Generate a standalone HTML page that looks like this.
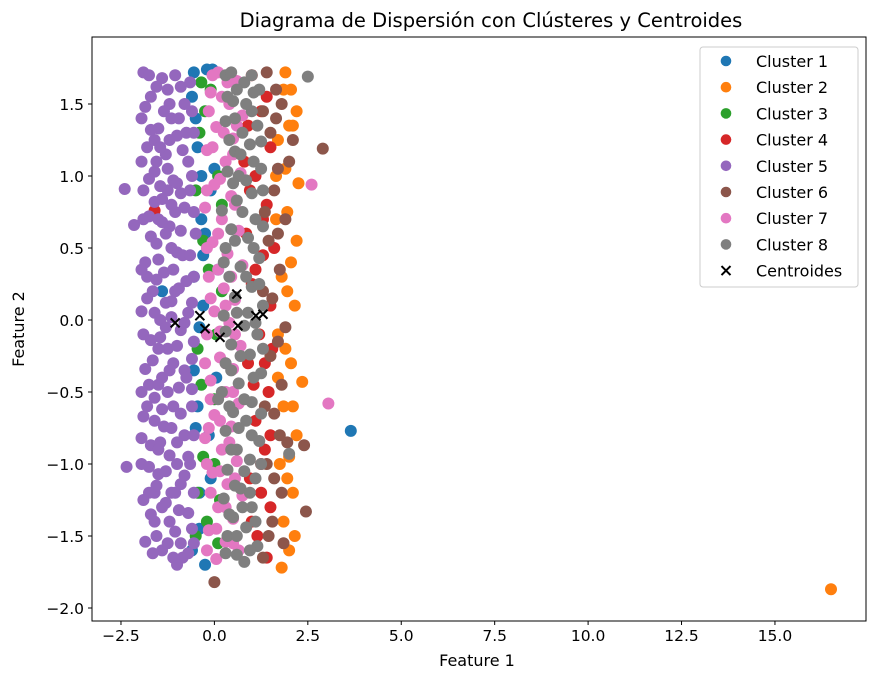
<!DOCTYPE html>
<html><head><meta charset="utf-8"><style>
body{margin:0;background:#fff;}
svg{display:block;font-family:"DejaVu Sans","Liberation Sans",sans-serif;}
</style></head><body>
<svg id="chart" width="878" height="677">
<text x="491" y="27" text-anchor="middle" font-size="19.5">Diagrama de Dispersión con Clústeres y Centroides</text>
<g id="pts"></g>
<rect x="92" y="37" width="774" height="584" fill="none" stroke="#000" stroke-width="1"/>
<g id="axes"></g>
<text x="477" y="666" text-anchor="middle" font-size="16">Feature 1</text>
<text transform="translate(24,329) rotate(-90)" text-anchor="middle" font-size="16">Feature 2</text>
<g id="legend"></g>
</svg>
<script>
const clusterNames=["Cluster 1","Cluster 2","Cluster 3","Cluster 4","Cluster 5","Cluster 6","Cluster 7","Cluster 8"];
const colors=["#1f77b4","#ff7f0e","#2ca02c","#d62728","#9467bd","#8c564b","#e377c2","#7f7f7f"];
const xTicks=[-2.5,0,2.5,5,7.5,10,12.5,15];
const xTickLabels=["−2.5","0.0","2.5","5.0","7.5","10.0","12.5","15.0"];
const yTicks=[-2,-1.5,-1,-0.5,0,0.5,1,1.5];
const yTickLabels=["−2.0","−1.5","−1.0","−0.5","0.0","0.5","1.0","1.5"];
const c1=[[-0.2,1.74],[-0.5,1.4],[0.0,1.05],[-0.35,0.7],[0.1,0.35],[-1.4,0.2],[-0.4,-0.05],[0.05,-0.4],[-0.5,-0.75],[-0.1,-1.1],[-0.4,-1.45],[-0.25,-1.7],[-0.45,1.2],[-0.1,0.9],[-0.3,0.1],[-0.15,-0.8],[3.65,-0.77],[-0.05,1.74],[-0.55,1.72],[-0.3,0.45],
[-0.6,1.55],[-0.35,1.0],[-0.55,0.3],[-0.55,-0.35],[-0.4,-1.2],[-0.6,-1.6],[-0.25,0.6],[-0.45,-0.6]];
const c2=[[1.9,1.72],[2.2,1.45],[1.7,1.25],[2.25,0.95],[1.95,0.75],[2.2,0.55],[1.8,0.3],[2.15,0.1],[1.7,-0.1],[2.05,-0.3],[2.35,-0.43],[1.85,-0.6],[2.2,-0.8],[1.75,-1.0],[2.1,-1.2],[1.85,-1.4],[2.0,-1.6],[1.8,-1.72],[2.05,1.6],[1.65,1.0],[2.1,1.35],[1.95,0.2],[2.0,-0.95],[16.5,-1.87],
[1.85,1.6],[2.0,1.35],[1.9,1.05],[2.05,0.4],[1.9,-0.2],[2.1,-0.6],[1.95,-1.1],[2.15,-1.5],[1.65,0.7],[1.7,-0.4]];
const c3=[[-0.1,1.6],[-0.4,1.3],[0.1,1.0],[-0.3,0.55],[0.2,0.2],[-0.45,-0.2],[0.0,-0.55],[-0.3,-0.95],[0.15,-1.25],[-0.2,-1.4],[-0.45,-1.2],[0.05,-0.1],[-0.25,1.45],[0.2,0.8],[-0.35,-0.45],[0.1,-1.55],
[-0.5,0.9],[-0.15,0.35],[-0.5,-1.5],[0.0,-1.0],[-0.35,1.65]];
const c4=[[1.0,1.7],[1.4,1.55],[0.9,1.35],[1.5,1.2],[1.1,1.0],[1.4,0.8],[0.85,0.6],[1.3,0.45],[1.0,0.25],[1.5,0.1],[1.2,-0.1],[0.9,-0.3],[1.45,-0.5],[1.1,-0.7],[1.35,-0.9],[0.95,-1.1],[1.5,-1.3],[1.15,-1.5],[1.4,-1.65],[1.6,0.5],[1.55,-0.2],[-1.6,0.76],[0.8,1.1],[1.25,-1.2],
[1.25,1.45],[0.95,0.9],[1.3,0.7],[1.1,0.35],[1.35,-0.3],[1.05,-0.45],[1.25,-1.0],[1.0,-1.4],[1.5,-0.8]];
const c5=[[-1.9,1.72],[-1.4,1.68],[-0.9,1.62],[-1.7,1.55],[-1.2,1.5],[-0.6,1.45],[-1.95,1.4],[-1.5,1.33],[-1.0,1.28],[-1.8,1.2],[-1.3,1.15],[-0.7,1.1],[-1.6,1.03],[-1.1,0.97],[-1.9,0.9],[-1.4,0.84],[-0.8,0.78],[-1.75,0.72],[-1.2,0.65],[-0.5,0.6],[-1.55,0.53],[-1.0,0.47],[-1.85,0.4],[-1.35,0.33],[-0.75,0.27],[-1.65,0.2],[-1.15,0.13],[-1.95,0.06],[-1.45,0.0],[-0.9,-0.07],[-1.7,-0.14],[-1.25,-0.2],[-0.6,-0.27],[-1.85,-0.34],[-1.4,-0.4],[-0.95,-0.47],[-1.6,-0.54],[-1.1,-0.6],[-1.9,-0.67],[-1.35,-0.74],[-0.8,-0.8],[-1.7,-0.87],[-1.2,-0.94],[-1.95,-1.0],[-1.5,-1.07],[-0.9,-1.14],[-1.75,-1.2],[-1.3,-1.27],[-0.7,-1.34],[-1.6,-1.4],[-1.05,-1.47],[-1.85,-1.54],[-1.4,-1.6],[-0.85,-1.65],[-1.55,1.1],[-1.05,0.2],[-1.5,-0.2],[-1.0,-1.0],[-1.25,1.6],[-1.3,0.6],[-2.35,-1.02],[-2.4,0.91],[-2.15,0.66],[-1.8,0.3],[-0.75,1.3],[-0.65,0.9],[-0.7,0.05],[-0.6,-0.6],[-0.65,-1.0],[-0.55,-1.55],[-1.15,1.4],[-1.6,1.25],[-1.05,0.75],[-1.5,0.7],[-1.2,-0.35],[-1.15,-1.2],[-1.6,-1.2],[-0.8,-0.35],[-1.0,0.95],[-1.25,0.9],[-1.3,-0.05],[-1.1,-1.65],[-0.8,1.5],[-1.75,-0.45],[-1.45,-0.85],[-0.85,0.45],
[-1.75,1.7],[-1.05,1.7],[-0.65,1.65],[-1.55,1.62],[-1.85,1.48],[-1.35,1.45],[-0.95,1.4],[-0.55,1.3],[-1.7,1.32],[-1.2,1.25],[-1.45,1.2],[-0.85,1.18],[-1.95,1.1],[-1.25,1.05],[-0.6,1.0],[-1.75,0.98],[-1.45,0.93],[-0.9,0.88],[-1.6,0.82],[-1.15,0.8],[-0.55,0.75],[-1.9,0.7],[-1.4,0.68],[-0.9,0.62],[-1.7,0.58],[-1.15,0.5],[-0.65,0.45],[-1.5,0.42],[-1.95,0.35],[-1.1,0.35],[-0.55,0.3],[-1.55,0.28],[-0.95,0.22],[-1.8,0.15],[-1.3,0.12],[-0.6,0.12],[-1.6,0.05],[-1.15,0.02],[-0.8,-0.02],[-1.9,-0.1],[-1.45,-0.12],[-1.0,-0.18],[-0.55,-0.15],[-1.65,-0.28],[-1.1,-0.3],[-0.75,-0.4],[-1.5,-0.45],[-1.95,-0.5],[-1.25,-0.5],[-0.6,-0.48],[-1.8,-0.6],[-1.4,-0.62],[-0.9,-0.65],[-1.6,-0.7],[-1.15,-0.75],[-0.55,-0.8],[-1.95,-0.82],[-1.5,-0.9],[-1.0,-0.85],[-0.7,-0.95],[-1.75,-1.02],[-1.3,-1.05],[-0.8,-1.08],[-1.55,-1.15],[-1.05,-1.2],[-0.55,-1.2],[-1.9,-1.25],[-1.4,-1.3],[-0.95,-1.32],[-1.7,-1.35],[-1.2,-1.4],[-0.6,-1.45],[-1.55,-1.5],[-0.9,-1.55],[-1.25,-1.55],[-1.65,-1.62],[-0.7,-1.62],[-1.0,-1.7]];
const c6=[[1.4,1.72],[1.8,1.5],[1.5,1.3],[2.0,1.1],[1.6,0.9],[1.9,0.7],[1.45,0.55],[1.75,0.35],[1.55,0.15],[1.9,-0.05],[1.5,-0.25],[1.8,-0.45],[1.6,-0.65],[1.95,-0.85],[1.4,-1.0],[1.8,-1.2],[1.55,-1.4],[1.85,-1.55],[1.3,-1.65],[2.9,1.19],[2.4,-0.87],[2.45,-1.33],[0.0,-1.82],[2.1,1.25],
[1.65,1.6],[1.3,1.45],[1.7,1.05],[1.35,0.75],[1.7,0.6],[1.3,0.2],[1.7,-0.15],[1.35,-0.6],[1.75,-0.8],[1.6,-1.1],[1.45,-1.5],[1.65,1.4]];
const c7=[[0.1,1.72],[0.6,1.66],[-0.1,1.58],[0.4,1.5],[0.75,1.42],[0.05,1.34],[0.5,1.26],[-0.2,1.18],[0.3,1.1],[0.7,1.02],[0.0,0.94],[0.45,0.86],[-0.25,0.78],[0.2,0.7],[0.65,0.62],[-0.05,0.54],[0.35,0.46],[0.75,0.38],[-0.15,0.3],[0.25,0.22],[0.55,0.14],[0.0,0.06],[0.4,-0.02],[-0.2,-0.1],[0.7,-0.18],[0.15,-0.26],[0.5,-0.34],[-0.1,-0.42],[0.3,-0.5],[0.65,-0.58],[0.0,-0.66],[0.45,-0.74],[-0.25,-0.82],[0.2,-0.9],[0.6,-0.98],[-0.05,-1.06],[0.35,-1.14],[0.75,-1.22],[0.1,-1.3],[0.5,-1.38],[-0.15,-1.46],[0.3,-1.54],[0.65,-1.6],[0.05,-1.66],[2.6,0.94],[3.05,-0.58],
[-0.05,1.7],[0.35,1.65],[0.2,1.55],[-0.15,1.45],[0.6,1.35],[0.25,1.3],[-0.05,1.2],[0.5,1.15],[0.15,0.98],[-0.2,0.9],[0.55,0.8],[0.1,0.6],[-0.2,0.5],[0.45,0.3],[0.1,0.35],[-0.1,0.15],[0.3,0.1],[0.15,-0.08],[0.55,-0.1],[-0.25,-0.3],[0.3,-0.3],[-0.1,-0.55],[0.5,-0.5],[0.15,-0.7],[-0.15,-0.75],[0.4,-0.85],[-0.2,-1.0],[0.15,-1.05],[0.55,-1.1],[-0.1,-1.2],[0.3,-1.3],[0.05,-1.45],[0.5,-1.55],[-0.2,-1.6]];
const c8=[[0.3,1.7],[0.8,1.65],[1.2,1.6],[0.5,1.52],[1.0,1.45],[0.3,1.38],[0.75,1.3],[1.25,1.24],[0.55,1.17],[1.05,1.1],[0.35,1.03],[0.85,0.97],[1.3,0.9],[0.6,0.83],[0.2,0.76],[1.1,0.7],[0.45,0.63],[0.9,0.57],[0.3,0.5],[1.2,0.43],[0.7,0.37],[0.4,0.3],[1.0,0.23],[0.55,0.16],[1.3,0.1],[0.25,0.03],[0.8,-0.04],[1.15,-0.1],[0.45,-0.17],[0.95,-0.24],[0.3,-0.3],[1.25,-0.37],[0.65,-0.44],[0.2,-0.5],[1.0,-0.57],[0.5,-0.64],[0.85,-0.7],[0.3,-0.77],[1.2,-0.84],[0.6,-0.9],[0.95,-0.97],[0.35,-1.04],[1.1,-1.1],[0.7,-1.17],[0.25,-1.24],[1.0,-1.3],[0.5,-1.37],[0.85,-1.44],[0.35,-1.5],[1.15,-1.57],[0.6,-1.63],[2.5,1.69],[2.0,-0.93],[0.65,1.0],[0.9,0.05],[0.1,-0.55],
[0.45,1.72],[1.0,1.7],[0.6,1.6],[1.05,1.58],[0.35,1.55],[0.85,1.5],[0.55,1.4],[1.15,1.35],[0.4,1.25],[0.95,1.22],[0.7,1.15],[1.25,1.05],[0.5,0.95],[1.0,0.88],[0.75,0.75],[1.3,0.65],[0.55,0.55],[1.05,0.5],[0.25,0.4],[0.85,0.3],[1.2,0.25],[0.6,0.05],[1.1,-0.02],[0.3,-0.08],[0.7,-0.25],[1.3,-0.2],[0.45,-0.35],[1.05,-0.4],[0.8,-0.55],[0.4,-0.6],[1.25,-0.65],[0.65,-0.75],[1.0,-0.8],[0.45,-0.9],[0.8,-1.05],[1.25,-1.0],[0.55,-1.15],[0.95,-1.2],[0.4,-1.35],[0.75,-1.3],[1.1,-1.4],[0.6,-1.5],[0.95,-1.6],[0.3,-1.62],[0.8,-1.68]];
const clusters=[c1,c2,c3,c4,c5,c6,c7,c8];
const centroids=[[-1.05,-0.02],[-0.39,0.03],[-0.25,-0.06],[0.15,-0.12],[0.6,0.18],[0.63,-0.04],[1.11,0.03],[1.3,0.04]];

const NS="http://www.w3.org/2000/svg";
function sx(v){return 214.4+v*37.37;}
function sy(v){return 320-v*144;}
function mk(tag,attrs,parent){const e=document.createElementNS(NS,tag);for(const k in attrs)e.setAttribute(k,attrs[k]);parent.appendChild(e);return e;}
const pts=document.getElementById('pts');
clusters.forEach((cl,ci)=>{
  cl.forEach(p=>{
    const c=mk('circle',{cx:sx(p[0]),cy:sy(p[1]),r:6,fill:colors[ci]},pts);
    
    
  });
});
centroids.forEach(p=>{
  const x=sx(p[0]),y=sy(p[1]);
  const g=mk('path',{d:`M${x-4.5} ${y-4.5}L${x+4.5} ${y+4.5}M${x-4.5} ${y+4.5}L${x+4.5} ${y-4.5}`,stroke:'#000','stroke-width':2},pts);
  
  
});
const axes=document.getElementById('axes');
xTicks.forEach((t,i)=>{
  const x=sx(t);
  mk('line',{x1:x,x2:x,y1:621,y2:625,stroke:'#000'},axes);
  const tx=mk('text',{x:x,y:641,'text-anchor':'middle','font-size':15.5},axes);
  tx.textContent=xTickLabels[i];
  
  
});
yTicks.forEach((t,i)=>{
  const y=sy(t);
  mk('line',{x1:88,x2:92,y1:y,y2:y,stroke:'#000'},axes);
  const tx=mk('text',{x:84,y:y+6,'text-anchor':'end','font-size':15.5},axes);
  tx.textContent=yTickLabels[i];
  
  
});
const lg=document.getElementById('legend');
const box=mk('rect',{x:700,y:47,width:158,height:240,rx:3,fill:'#fff','fill-opacity':0.8,stroke:'#ccc'},lg);


clusterNames.concat(['Centroides']).forEach((n,i)=>{
  const y=61+i*26.2;
  if(i<8){mk('circle',{cx:726,cy:y,r:5.3,fill:colors[i]},lg);}
  else{mk('path',{d:`M${721.5} ${y-4.5}L${730.5} ${y+4.5}M${721.5} ${y+4.5}L${730.5} ${y-4.5}`,stroke:'#000','stroke-width':2},lg);}
  const t=mk('text',{x:756,y:y+6,'font-size':16},lg);
  t.textContent=n;
  
  
});
</script>
</body></html>
